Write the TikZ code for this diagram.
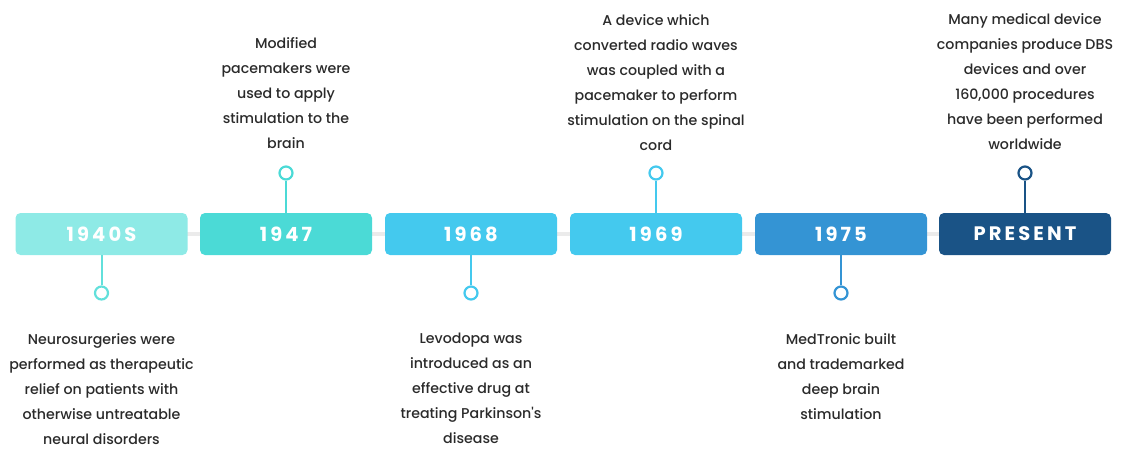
\documentclass[tikz,border=0pt]{standalone}
\usepackage{fontspec}
\usetikzlibrary{backgrounds}
\setmainfont{Poppins}
\newfontfamily\notefont{Poppins Medium}
\newfontfamily\yearfont[LetterSpace=16]{Poppins}

\definecolor{tealpale}{HTML}{8EEAE6}
\definecolor{tealpaleline}{HTML}{62E0DB}
\definecolor{teal}{HTML}{4BDAD6}
\definecolor{sky}{HTML}{44C9EE}
\definecolor{ocean}{HTML}{3494D4}
\definecolor{navy}{HTML}{1A5386}
\definecolor{notegray}{HTML}{2A2A2A}

\begin{document}
\begin{tikzpicture}[x=1pt,y=-1pt,
  yearbox/.style={rounded corners=5pt,minimum width=172pt,minimum height=42pt,
    inner sep=0pt,text=white,font=\yearfont\bfseries\fontsize{19.5}{19.5}\selectfont},
  stem/.style={line width=2pt},
  dot/.style={circle,draw,line width=2.2pt,fill=white,minimum size=13pt,inner sep=0pt},
  note/.style={align=center,inner sep=0pt,text=notegray,
    font=\notefont\fontsize{14.2}{25}\selectfont}]
\useasboundingbox (0,0) rectangle (1122,448);

% year boxes
\node[yearbox,fill=tealpale] (y1940s) at (101.5,234) {1940S};
\node[yearbox,fill=teal] (y1947) at (286,234) {1947};
\node[yearbox,fill=sky] (y1968) at (471,234) {1968};
\node[yearbox,fill=sky] (y1969) at (656,234) {1969};
\node[yearbox,fill=ocean] (y1975) at (841,234) {1975};
\node[yearbox,fill=navy] (present) at (1025,234) {PRESENT};

% grey rail behind the boxes
\begin{scope}[on background layer]
\draw[line width=4pt,black!8] (y1940s.center) -- (present.center);
\end{scope}

% stems with end dots
\node[dot,draw=tealpaleline] (d1940s) at (101.5,293) {};
\draw[stem,tealpaleline] (y1940s.south) -- (d1940s.north);
\node[dot,draw=teal] (d1947) at (286,173) {};
\draw[stem,teal] (y1947.north) -- (d1947.south);
\node[dot,draw=sky] (d1968) at (471,293) {};
\draw[stem,sky] (y1968.south) -- (d1968.north);
\node[dot,draw=sky] (d1969) at (656,173) {};
\draw[stem,sky] (y1969.north) -- (d1969.south);
\node[dot,draw=ocean] (d1975) at (841,293) {};
\draw[stem,ocean] (y1975.south) -- (d1975.north);
\node[dot,draw=navy] (dpresent) at (1025,173) {};
\draw[stem,navy] (present.north) -- (dpresent.south);

% notes
\node[note,anchor=north] (n1940s) at (101.5,333) {Neurosurgeries were\\performed as therapeutic\\relief on patients with\\otherwise untreatable\\neural disorders};
\node[note,anchor=north] (n1947) at (286,37) {Modified\\pacemakers were\\used to apply\\stimulation to the\\brain};
\node[note,anchor=north] (n1968) at (471,333) {Levodopa was\\introduced as an\\effective drug at\\treating Parkinson's\\disease};
\node[note,anchor=north] (n1969) at (656,14) {A device which\\converted radio waves\\was coupled with a\\pacemaker to perform\\stimulation on the spinal\\cord};
\node[note,anchor=north] (n1975) at (841,333) {MedTronic built\\and trademarked\\deep brain\\stimulation};
\node[note,anchor=north] (npresent) at (1025,13) {Many medical device\\companies produce DBS\\devices and over\\160,000 procedures\\have been performed\\worldwide};
\end{tikzpicture}
\end{document}
